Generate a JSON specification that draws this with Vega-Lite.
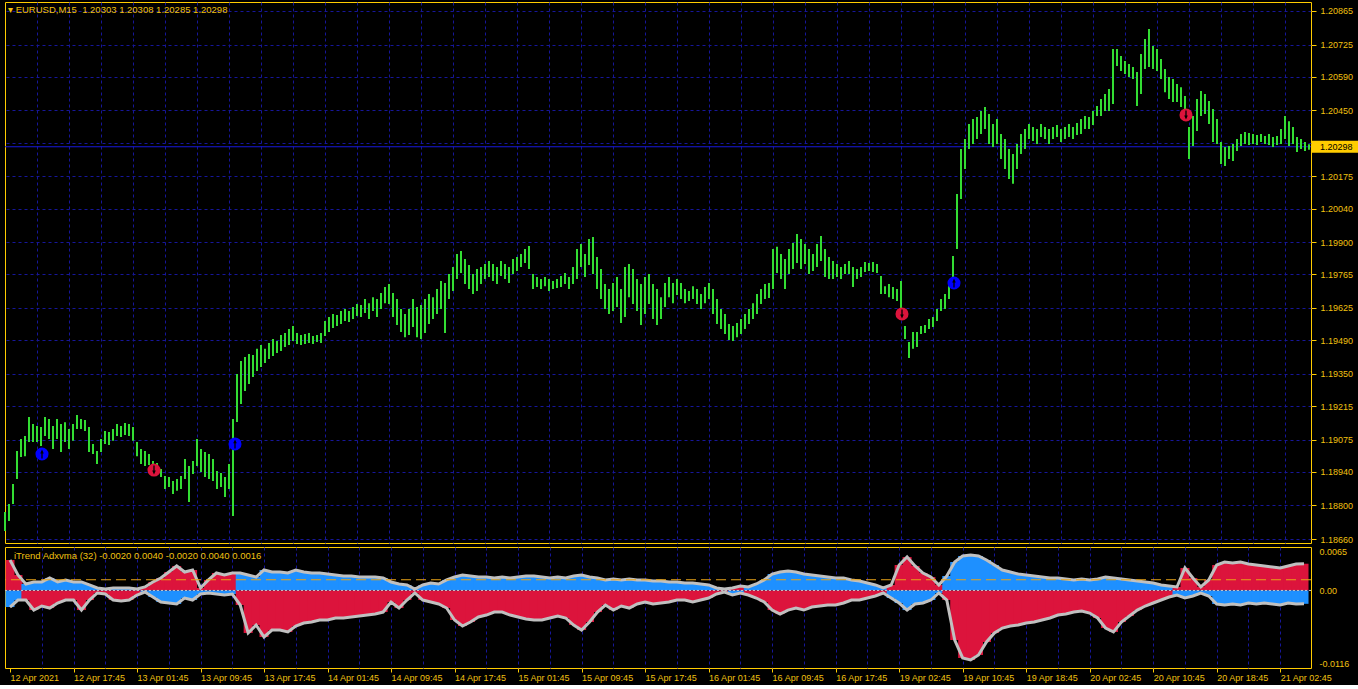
{
"$schema":"https://vega.github.io/schema/vega-lite/v6.json",
"background":"#000000",
"padding":{"left":3,"top":1,"right":8,"bottom":2},
"spacing":1,
"config":{"view":{"stroke":"#ffcc00","strokeWidth":1},"axis":{"labelFont":"Liberation Sans","labelFontSize":9,"labelColor":"#f0c010","tickColor":"#ffcc00","domain":false,"title":null,"gridColor":"#16169a","gridDash":[3,3],"gridWidth":1}},
"datasets":{
"bars":[
{"i":0,"h":1.18773,"l":1.18693},{"i":2,"h":1.18806,"l":1.18735},{"i":4,"h":1.18890,"l":1.18806},{"i":6,"h":1.19027,"l":1.18911},{"i":8,"h":1.19078,"l":1.19002},{"i":10,"h":1.19090,"l":1.19006},{"i":12,"h":1.19169,"l":1.19065},{"i":14,"h":1.19140,"l":1.19065},{"i":16,"h":1.19132,"l":1.19065},{"i":18,"h":1.19128,"l":1.19048},
{"i":20,"h":1.19169,"l":1.19090},{"i":22,"h":1.19161,"l":1.19078},{"i":24,"h":1.19132,"l":1.19036},{"i":26,"h":1.19161,"l":1.19078},{"i":28,"h":1.19140,"l":1.19023},{"i":30,"h":1.19148,"l":1.19065},{"i":32,"h":1.19119,"l":1.19036},{"i":34,"h":1.19140,"l":1.19070},{"i":36,"h":1.19178,"l":1.19119},{"i":38,"h":1.19161,"l":1.19119},
{"i":40,"h":1.19157,"l":1.19111},{"i":42,"h":1.19128,"l":1.19023},{"i":44,"h":1.19057,"l":1.19015},{"i":46,"h":1.19027,"l":1.18973},{"i":48,"h":1.19078,"l":1.19023},{"i":50,"h":1.19111,"l":1.19057},{"i":52,"h":1.19107,"l":1.19053},{"i":54,"h":1.19119,"l":1.19070},{"i":56,"h":1.19140,"l":1.19090},{"i":58,"h":1.19132,"l":1.19086},
{"i":60,"h":1.19144,"l":1.19094},{"i":62,"h":1.19140,"l":1.19090},{"i":64,"h":1.19128,"l":1.19070},{"i":66,"h":1.19065,"l":1.19006},{"i":68,"h":1.19036,"l":1.18973},{"i":70,"h":1.19027,"l":1.18965},{"i":72,"h":1.19015,"l":1.18969},{"i":74,"h":1.18986,"l":1.18940},{"i":76,"h":1.18977,"l":1.18935},{"i":78,"h":1.18952,"l":1.18919},
{"i":80,"h":1.18923,"l":1.18869},{"i":82,"h":1.18919,"l":1.18877},{"i":84,"h":1.18902,"l":1.18848},{"i":86,"h":1.18911,"l":1.18861},{"i":88,"h":1.18923,"l":1.18869},{"i":90,"h":1.18994,"l":1.18911},{"i":92,"h":1.18965,"l":1.18815},{"i":94,"h":1.18986,"l":1.18931},{"i":96,"h":1.19078,"l":1.18965},{"i":98,"h":1.19036,"l":1.18940},
{"i":100,"h":1.19023,"l":1.18919},{"i":102,"h":1.19015,"l":1.18911},{"i":104,"h":1.18994,"l":1.18902},{"i":106,"h":1.18944,"l":1.18869},{"i":108,"h":1.18936,"l":1.18877},{"i":110,"h":1.18919,"l":1.18835},{"i":112,"h":1.18973,"l":1.18869},{"i":114,"h":1.19161,"l":1.18756},{"i":116,"h":1.19349,"l":1.19149},{"i":118,"h":1.19403,"l":1.19224},
{"i":120,"h":1.19420,"l":1.19278},{"i":122,"h":1.19433,"l":1.19307},{"i":124,"h":1.19428,"l":1.19337},{"i":126,"h":1.19454,"l":1.19362},{"i":128,"h":1.19470,"l":1.19378},{"i":130,"h":1.19454,"l":1.19395},{"i":132,"h":1.19479,"l":1.19412},{"i":134,"h":1.19495,"l":1.19424},{"i":136,"h":1.19487,"l":1.19437},{"i":138,"h":1.19512,"l":1.19445},
{"i":140,"h":1.19520,"l":1.19462},{"i":142,"h":1.19537,"l":1.19470},{"i":144,"h":1.19550,"l":1.19487},{"i":146,"h":1.19520,"l":1.19474},{"i":148,"h":1.19512,"l":1.19470},{"i":150,"h":1.19516,"l":1.19474},{"i":152,"h":1.19520,"l":1.19478},{"i":154,"h":1.19508,"l":1.19474},{"i":156,"h":1.19512,"l":1.19483},{"i":158,"h":1.19520,"l":1.19478},
{"i":160,"h":1.19570,"l":1.19508},{"i":162,"h":1.19587,"l":1.19524},{"i":164,"h":1.19600,"l":1.19541},{"i":166,"h":1.19595,"l":1.19550},{"i":168,"h":1.19612,"l":1.19558},{"i":170,"h":1.19620,"l":1.19570},{"i":172,"h":1.19612,"l":1.19566},{"i":174,"h":1.19629,"l":1.19579},{"i":176,"h":1.19641,"l":1.19591},{"i":178,"h":1.19637,"l":1.19587},
{"i":180,"h":1.19662,"l":1.19604},{"i":182,"h":1.19645,"l":1.19579},{"i":184,"h":1.19670,"l":1.19612},{"i":186,"h":1.19662,"l":1.19587},{"i":188,"h":1.19687,"l":1.19620},{"i":190,"h":1.19712,"l":1.19645},{"i":192,"h":1.19725,"l":1.19641},{"i":194,"h":1.19687,"l":1.19587},{"i":196,"h":1.19662,"l":1.19554},{"i":198,"h":1.19620,"l":1.19524},
{"i":200,"h":1.19600,"l":1.19503},{"i":202,"h":1.19620,"l":1.19512},{"i":204,"h":1.19662,"l":1.19545},{"i":206,"h":1.19629,"l":1.19503},{"i":208,"h":1.19637,"l":1.19495},{"i":210,"h":1.19662,"l":1.19520},{"i":212,"h":1.19683,"l":1.19558},{"i":214,"h":1.19670,"l":1.19579},{"i":216,"h":1.19704,"l":1.19600},{"i":218,"h":1.19737,"l":1.19620},
{"i":220,"h":1.19729,"l":1.19520},{"i":222,"h":1.19767,"l":1.19662},{"i":224,"h":1.19796,"l":1.19696},{"i":226,"h":1.19850,"l":1.19746},{"i":228,"h":1.19863,"l":1.19771},{"i":230,"h":1.19829,"l":1.19725},{"i":232,"h":1.19804,"l":1.19704},{"i":234,"h":1.19767,"l":1.19683},{"i":236,"h":1.19788,"l":1.19696},{"i":238,"h":1.19796,"l":1.19725},
{"i":240,"h":1.19808,"l":1.19746},{"i":242,"h":1.19821,"l":1.19754},{"i":244,"h":1.19808,"l":1.19737},{"i":246,"h":1.19796,"l":1.19725},{"i":248,"h":1.19821,"l":1.19758},{"i":250,"h":1.19808,"l":1.19746},{"i":252,"h":1.19796,"l":1.19729},{"i":254,"h":1.19829,"l":1.19767},{"i":256,"h":1.19838,"l":1.19779},{"i":258,"h":1.19850,"l":1.19796},
{"i":260,"h":1.19871,"l":1.19813},{"i":262,"h":1.19884,"l":1.19788},{"i":264,"h":1.19767,"l":1.19704},{"i":266,"h":1.19754,"l":1.19712},{"i":268,"h":1.19746,"l":1.19704},{"i":270,"h":1.19754,"l":1.19716},{"i":272,"h":1.19746,"l":1.19696},{"i":274,"h":1.19737,"l":1.19704},{"i":276,"h":1.19746,"l":1.19708},{"i":278,"h":1.19758,"l":1.19712},
{"i":280,"h":1.19771,"l":1.19725},{"i":282,"h":1.19754,"l":1.19704},{"i":284,"h":1.19796,"l":1.19725},{"i":286,"h":1.19871,"l":1.19746},{"i":288,"h":1.19892,"l":1.19796},{"i":290,"h":1.19850,"l":1.19754},{"i":292,"h":1.19913,"l":1.19804},{"i":294,"h":1.19921,"l":1.19767},{"i":296,"h":1.19838,"l":1.19704},{"i":298,"h":1.19788,"l":1.19662},
{"i":300,"h":1.19725,"l":1.19620},{"i":302,"h":1.19704,"l":1.19600},{"i":304,"h":1.19729,"l":1.19612},{"i":306,"h":1.19754,"l":1.19629},{"i":308,"h":1.19704,"l":1.19562},{"i":310,"h":1.19796,"l":1.19587},{"i":312,"h":1.19808,"l":1.19670},{"i":314,"h":1.19788,"l":1.19641},{"i":316,"h":1.19746,"l":1.19612},{"i":318,"h":1.19725,"l":1.19554},
{"i":320,"h":1.19754,"l":1.19600},{"i":322,"h":1.19767,"l":1.19641},{"i":324,"h":1.19725,"l":1.19579},{"i":326,"h":1.19704,"l":1.19554},{"i":328,"h":1.19670,"l":1.19579},{"i":330,"h":1.19729,"l":1.19629},{"i":332,"h":1.19754,"l":1.19670},{"i":334,"h":1.19729,"l":1.19645},{"i":336,"h":1.19746,"l":1.19679},{"i":338,"h":1.19729,"l":1.19662},
{"i":340,"h":1.19704,"l":1.19645},{"i":342,"h":1.19696,"l":1.19654},{"i":344,"h":1.19716,"l":1.19662},{"i":346,"h":1.19704,"l":1.19641},{"i":348,"h":1.19683,"l":1.19620},{"i":350,"h":1.19712,"l":1.19645},{"i":352,"h":1.19729,"l":1.19662},{"i":354,"h":1.19704,"l":1.19600},{"i":356,"h":1.19662,"l":1.19558},{"i":358,"h":1.19620,"l":1.19537},
{"i":360,"h":1.19600,"l":1.19516},{"i":362,"h":1.19558,"l":1.19491},{"i":364,"h":1.19550,"l":1.19487},{"i":366,"h":1.19562,"l":1.19503},{"i":368,"h":1.19579,"l":1.19516},{"i":370,"h":1.19600,"l":1.19537},{"i":372,"h":1.19620,"l":1.19558},{"i":374,"h":1.19645,"l":1.19579},{"i":376,"h":1.19683,"l":1.19600},{"i":378,"h":1.19704,"l":1.19641},
{"i":380,"h":1.19725,"l":1.19662},{"i":382,"h":1.19729,"l":1.19666},{"i":384,"h":1.19871,"l":1.19704},{"i":386,"h":1.19880,"l":1.19771},{"i":388,"h":1.19850,"l":1.19746},{"i":390,"h":1.19829,"l":1.19704},{"i":392,"h":1.19871,"l":1.19767},{"i":394,"h":1.19896,"l":1.19788},{"i":396,"h":1.19934,"l":1.19813},{"i":398,"h":1.19913,"l":1.19788},
{"i":400,"h":1.19892,"l":1.19808},{"i":402,"h":1.19871,"l":1.19767},{"i":404,"h":1.19850,"l":1.19779},{"i":406,"h":1.19892,"l":1.19796},{"i":408,"h":1.19925,"l":1.19821},{"i":410,"h":1.19871,"l":1.19754},{"i":412,"h":1.19838,"l":1.19746},{"i":414,"h":1.19821,"l":1.19746},{"i":416,"h":1.19808,"l":1.19754},{"i":418,"h":1.19796,"l":1.19746},
{"i":420,"h":1.19808,"l":1.19767},{"i":422,"h":1.19821,"l":1.19767},{"i":424,"h":1.19796,"l":1.19712},{"i":426,"h":1.19788,"l":1.19746},{"i":428,"h":1.19796,"l":1.19754},{"i":430,"h":1.19817,"l":1.19775},{"i":432,"h":1.19813,"l":1.19779},{"i":434,"h":1.19817,"l":1.19775},{"i":436,"h":1.19808,"l":1.19771},{"i":438,"h":1.19758,"l":1.19683},
{"i":440,"h":1.19716,"l":1.19683},{"i":442,"h":1.19725,"l":1.19670},{"i":444,"h":1.19712,"l":1.19662},{"i":446,"h":1.19704,"l":1.19654},{"i":448,"h":1.19737,"l":1.19579},{"i":450,"h":1.19550,"l":1.19495},{"i":452,"h":1.19483,"l":1.19416},{"i":454,"h":1.19524,"l":1.19454},{"i":456,"h":1.19524,"l":1.19462},{"i":458,"h":1.19550,"l":1.19516},
{"i":460,"h":1.19554,"l":1.19520},{"i":462,"h":1.19579,"l":1.19537},{"i":464,"h":1.19587,"l":1.19545},{"i":466,"h":1.19620,"l":1.19570},{"i":468,"h":1.19662,"l":1.19612},{"i":470,"h":1.19683,"l":1.19620},{"i":472,"h":1.19725,"l":1.19662},{"i":474,"h":1.19842,"l":1.19746},{"i":476,"h":1.20101,"l":1.19871},{"i":478,"h":1.20289,"l":1.20080},
{"i":480,"h":1.20330,"l":1.20205},{"i":482,"h":1.20393,"l":1.20289},{"i":484,"h":1.20414,"l":1.20310},{"i":486,"h":1.20422,"l":1.20330},{"i":488,"h":1.20447,"l":1.20351},{"i":490,"h":1.20464,"l":1.20372},{"i":492,"h":1.20435,"l":1.20310},{"i":494,"h":1.20393,"l":1.20297},{"i":496,"h":1.20414,"l":1.20310},{"i":498,"h":1.20351,"l":1.20247},
{"i":500,"h":1.20330,"l":1.20205},{"i":502,"h":1.20289,"l":1.20163},{"i":504,"h":1.20268,"l":1.20143},{"i":506,"h":1.20310,"l":1.20205},{"i":508,"h":1.20351,"l":1.20268},{"i":510,"h":1.20372,"l":1.20289},{"i":512,"h":1.20393,"l":1.20330},{"i":514,"h":1.20380,"l":1.20322},{"i":516,"h":1.20372,"l":1.20310},{"i":518,"h":1.20393,"l":1.20339},
{"i":520,"h":1.20380,"l":1.20330},{"i":522,"h":1.20372,"l":1.20310},{"i":524,"h":1.20380,"l":1.20330},{"i":526,"h":1.20389,"l":1.20339},{"i":528,"h":1.20372,"l":1.20318},{"i":530,"h":1.20380,"l":1.20330},{"i":532,"h":1.20393,"l":1.20339},{"i":534,"h":1.20380,"l":1.20330},{"i":536,"h":1.20397,"l":1.20347},{"i":538,"h":1.20414,"l":1.20351},
{"i":540,"h":1.20426,"l":1.20372},{"i":542,"h":1.20422,"l":1.20372},{"i":544,"h":1.20447,"l":1.20389},{"i":546,"h":1.20468,"l":1.20426},{"i":548,"h":1.20497,"l":1.20426},{"i":550,"h":1.20518,"l":1.20447},{"i":552,"h":1.20539,"l":1.20447},{"i":554,"h":1.20706,"l":1.20477},{"i":556,"h":1.20706,"l":1.20635},{"i":558,"h":1.20677,"l":1.20614},
{"i":560,"h":1.20656,"l":1.20602},{"i":562,"h":1.20644,"l":1.20589},{"i":564,"h":1.20631,"l":1.20581},{"i":566,"h":1.20610,"l":1.20468},{"i":568,"h":1.20685,"l":1.20518},{"i":570,"h":1.20748,"l":1.20623},{"i":572,"h":1.20790,"l":1.20631},{"i":574,"h":1.20719,"l":1.20623},{"i":576,"h":1.20706,"l":1.20614},{"i":578,"h":1.20664,"l":1.20581},
{"i":580,"h":1.20623,"l":1.20526},{"i":582,"h":1.20589,"l":1.20497},{"i":584,"h":1.20581,"l":1.20485},{"i":586,"h":1.20560,"l":1.20485},{"i":588,"h":1.20547,"l":1.20464},{"i":590,"h":1.20510,"l":1.20414},{"i":592,"h":1.20380,"l":1.20247},{"i":594,"h":1.20426,"l":1.20301},{"i":596,"h":1.20497,"l":1.20364},{"i":598,"h":1.20531,"l":1.20426},
{"i":600,"h":1.20518,"l":1.20435},{"i":602,"h":1.20489,"l":1.20393},{"i":604,"h":1.20456,"l":1.20318},{"i":606,"h":1.20414,"l":1.20310},{"i":608,"h":1.20318,"l":1.20226},{"i":610,"h":1.20297,"l":1.20218},{"i":612,"h":1.20301,"l":1.20247},{"i":614,"h":1.20310,"l":1.20239},{"i":616,"h":1.20330,"l":1.20280},{"i":618,"h":1.20351,"l":1.20301},
{"i":620,"h":1.20360,"l":1.20310},{"i":622,"h":1.20355,"l":1.20305},{"i":624,"h":1.20351,"l":1.20310},{"i":626,"h":1.20347,"l":1.20305},{"i":628,"h":1.20351,"l":1.20318},{"i":630,"h":1.20343,"l":1.20310},{"i":632,"h":1.20351,"l":1.20305},{"i":634,"h":1.20339,"l":1.20297},{"i":636,"h":1.20343,"l":1.20305},{"i":638,"h":1.20372,"l":1.20310},
{"i":640,"h":1.20426,"l":1.20330},{"i":642,"h":1.20405,"l":1.20301},{"i":644,"h":1.20380,"l":1.20310},{"i":646,"h":1.20339,"l":1.20276},{"i":648,"h":1.20330,"l":1.20289},{"i":650,"h":1.20318,"l":1.20280},{"i":652,"h":1.20308,"l":1.20285}
],
"ind":[
{"i":0,"t":0.00456,"b":-0.00248,"m":"r"},{"i":4,"t":0.00231,"b":-0.00143,"m":"r"},{"i":8,"t":0.00097,"b":-0.00143,"m":"b"},{"i":12,"t":0.00127,"b":-0.00293,"m":"b"},{"i":16,"t":0.00127,"b":-0.00233,"m":"b"},{"i":20,"t":0.00186,"b":-0.00263,"m":"b"},{"i":24,"t":0.00127,"b":-0.00188,"m":"b"},{"i":28,"t":0.00157,"b":-0.00143,"m":"b"},{"i":32,"t":0.00127,"b":-0.00143,"m":"b"},{"i":36,"t":0.00127,"b":-0.00293,"m":"b"},
{"i":40,"t":0.00082,"b":-0.00143,"m":"b"},{"i":44,"t":0.00037,"b":-0.00038,"m":"b"},{"i":48,"t":0.00022,"b":-0.00053,"m":"b"},{"i":52,"t":0.00037,"b":-0.00143,"m":"b"},{"i":56,"t":0.00037,"b":-0.00158,"m":"b"},{"i":60,"t":0.00037,"b":-0.00143,"m":"b"},{"i":64,"t":0.00022,"b":-0.00068,"m":"b"},{"i":68,"t":0.00052,"b":-0.00023,"m":"r"},{"i":72,"t":0.00127,"b":-0.00098,"m":"r"},{"i":76,"t":0.00186,"b":-0.00173,"m":"r"},
{"i":80,"t":0.00276,"b":-0.00188,"m":"r"},{"i":84,"t":0.00366,"b":-0.00203,"m":"r"},{"i":88,"t":0.00276,"b":-0.00113,"m":"r"},{"i":92,"t":0.00306,"b":-0.00143,"m":"r"},{"i":96,"t":0.00037,"b":-0.00053,"m":"r"},{"i":100,"t":0.00157,"b":-0.00038,"m":"r"},{"i":104,"t":0.00261,"b":-0.00053,"m":"r"},{"i":108,"t":0.00231,"b":-0.00068,"m":"r"},{"i":112,"t":0.00261,"b":-0.00053,"m":"r"},{"i":116,"t":0.00261,"b":-0.00218,"m":"b"},
{"i":120,"t":0.00231,"b":-0.00636,"m":"b"},{"i":124,"t":0.00201,"b":-0.00517,"m":"b"},{"i":128,"t":0.00306,"b":-0.00696,"m":"b"},{"i":132,"t":0.00276,"b":-0.00592,"m":"b"},{"i":136,"t":0.00276,"b":-0.00592,"m":"b"},{"i":140,"t":0.00261,"b":-0.00621,"m":"b"},{"i":144,"t":0.00306,"b":-0.00532,"m":"b"},{"i":148,"t":0.00276,"b":-0.00487,"m":"b"},{"i":152,"t":0.00261,"b":-0.00472,"m":"b"},{"i":156,"t":0.00261,"b":-0.00442,"m":"b"},
{"i":160,"t":0.00246,"b":-0.00442,"m":"b"},{"i":164,"t":0.00231,"b":-0.00412,"m":"b"},{"i":168,"t":0.00216,"b":-0.00412,"m":"b"},{"i":172,"t":0.00216,"b":-0.00397,"m":"b"},{"i":176,"t":0.00201,"b":-0.00382,"m":"b"},{"i":180,"t":0.00201,"b":-0.00368,"m":"b"},{"i":184,"t":0.00201,"b":-0.00353,"m":"b"},{"i":188,"t":0.00186,"b":-0.00323,"m":"b"},{"i":192,"t":0.00127,"b":-0.00173,"m":"b"},{"i":196,"t":0.00097,"b":-0.00263,"m":"b"},
{"i":200,"t":0.00082,"b":-0.00143,"m":"b"},{"i":204,"t":0.00022,"b":-0.00038,"m":"b"},{"i":208,"t":0.00082,"b":-0.00143,"m":"b"},{"i":212,"t":0.00112,"b":-0.00173,"m":"b"},{"i":216,"t":0.00097,"b":-0.00203,"m":"b"},{"i":220,"t":0.00157,"b":-0.00263,"m":"b"},{"i":224,"t":0.00201,"b":-0.00442,"m":"b"},{"i":228,"t":0.00231,"b":-0.00532,"m":"b"},{"i":232,"t":0.00216,"b":-0.00472,"m":"b"},{"i":236,"t":0.00201,"b":-0.00397,"m":"b"},
{"i":240,"t":0.00201,"b":-0.00368,"m":"b"},{"i":244,"t":0.00186,"b":-0.00323,"m":"b"},{"i":248,"t":0.00201,"b":-0.00323,"m":"b"},{"i":252,"t":0.00186,"b":-0.00368,"m":"b"},{"i":256,"t":0.00201,"b":-0.00397,"m":"b"},{"i":260,"t":0.00216,"b":-0.00427,"m":"b"},{"i":264,"t":0.00216,"b":-0.00442,"m":"b"},{"i":268,"t":0.00201,"b":-0.00442,"m":"b"},{"i":272,"t":0.00186,"b":-0.00412,"m":"b"},{"i":276,"t":0.00201,"b":-0.00382,"m":"b"},
{"i":280,"t":0.00186,"b":-0.00412,"m":"b"},{"i":284,"t":0.00216,"b":-0.00517,"m":"b"},{"i":288,"t":0.00231,"b":-0.00592,"m":"b"},{"i":292,"t":0.00201,"b":-0.00472,"m":"b"},{"i":296,"t":0.00186,"b":-0.00323,"m":"b"},{"i":300,"t":0.00157,"b":-0.00218,"m":"b"},{"i":304,"t":0.00172,"b":-0.00293,"m":"b"},{"i":308,"t":0.00157,"b":-0.00233,"m":"b"},{"i":312,"t":0.00172,"b":-0.00263,"m":"b"},{"i":316,"t":0.00157,"b":-0.00203,"m":"b"},
{"i":320,"t":0.00157,"b":-0.00173,"m":"b"},{"i":324,"t":0.00142,"b":-0.00203,"m":"b"},{"i":328,"t":0.00142,"b":-0.00188,"m":"b"},{"i":332,"t":0.00127,"b":-0.00173,"m":"b"},{"i":336,"t":0.00127,"b":-0.00143,"m":"b"},{"i":340,"t":0.00112,"b":-0.00143,"m":"b"},{"i":344,"t":0.00112,"b":-0.00173,"m":"b"},{"i":348,"t":0.00097,"b":-0.00143,"m":"b"},{"i":352,"t":0.00082,"b":-0.00113,"m":"b"},{"i":356,"t":0.00037,"b":-0.00053,"m":"b"},
{"i":360,"t":0.00022,"b":-0.00023,"m":"b"},{"i":364,"t":0.00037,"b":-0.00068,"m":"r"},{"i":368,"t":0.00067,"b":-0.00038,"m":"r"},{"i":372,"t":0.00052,"b":-0.00068,"m":"b"},{"i":376,"t":0.00097,"b":-0.00113,"m":"b"},{"i":380,"t":0.00157,"b":-0.00173,"m":"b"},{"i":384,"t":0.00246,"b":-0.00293,"m":"b"},{"i":388,"t":0.00276,"b":-0.00353,"m":"b"},{"i":392,"t":0.00291,"b":-0.00293,"m":"b"},{"i":396,"t":0.00276,"b":-0.00263,"m":"b"},
{"i":400,"t":0.00246,"b":-0.00293,"m":"b"},{"i":404,"t":0.00231,"b":-0.00248,"m":"b"},{"i":408,"t":0.00216,"b":-0.00233,"m":"b"},{"i":412,"t":0.00201,"b":-0.00218,"m":"b"},{"i":416,"t":0.00186,"b":-0.00218,"m":"b"},{"i":420,"t":0.00186,"b":-0.00188,"m":"b"},{"i":424,"t":0.00157,"b":-0.00143,"m":"b"},{"i":428,"t":0.00142,"b":-0.00143,"m":"b"},{"i":432,"t":0.00112,"b":-0.00113,"m":"b"},{"i":436,"t":0.00082,"b":-0.00083,"m":"b"},
{"i":440,"t":0.00037,"b":-0.00038,"m":"b"},{"i":444,"t":0.00082,"b":-0.00113,"m":"r"},{"i":448,"t":0.00381,"b":-0.00188,"m":"r"},{"i":452,"t":0.00500,"b":-0.00293,"m":"r"},{"i":456,"t":0.00366,"b":-0.00203,"m":"r"},{"i":460,"t":0.00261,"b":-0.00188,"m":"r"},{"i":464,"t":0.00201,"b":-0.00143,"m":"r"},{"i":468,"t":0.00082,"b":-0.00038,"m":"r"},{"i":472,"t":0.00216,"b":-0.00143,"m":"b"},{"i":476,"t":0.00426,"b":-0.00741,"m":"b"},
{"i":480,"t":0.00515,"b":-0.01010,"m":"b"},{"i":484,"t":0.00530,"b":-0.01040,"m":"b"},{"i":488,"t":0.00515,"b":-0.00965,"m":"b"},{"i":492,"t":0.00456,"b":-0.00771,"m":"b"},{"i":496,"t":0.00381,"b":-0.00636,"m":"b"},{"i":500,"t":0.00306,"b":-0.00562,"m":"b"},{"i":504,"t":0.00276,"b":-0.00532,"m":"b"},{"i":508,"t":0.00246,"b":-0.00517,"m":"b"},{"i":512,"t":0.00231,"b":-0.00487,"m":"b"},{"i":516,"t":0.00216,"b":-0.00472,"m":"b"},
{"i":520,"t":0.00201,"b":-0.00442,"m":"b"},{"i":524,"t":0.00186,"b":-0.00412,"m":"b"},{"i":528,"t":0.00186,"b":-0.00368,"m":"b"},{"i":532,"t":0.00172,"b":-0.00353,"m":"b"},{"i":536,"t":0.00157,"b":-0.00323,"m":"b"},{"i":540,"t":0.00172,"b":-0.00308,"m":"b"},{"i":544,"t":0.00157,"b":-0.00338,"m":"b"},{"i":548,"t":0.00172,"b":-0.00412,"m":"b"},{"i":552,"t":0.00201,"b":-0.00562,"m":"b"},{"i":556,"t":0.00186,"b":-0.00621,"m":"b"},
{"i":560,"t":0.00172,"b":-0.00472,"m":"b"},{"i":564,"t":0.00157,"b":-0.00382,"m":"b"},{"i":568,"t":0.00142,"b":-0.00293,"m":"b"},{"i":572,"t":0.00127,"b":-0.00233,"m":"b"},{"i":576,"t":0.00112,"b":-0.00188,"m":"b"},{"i":580,"t":0.00082,"b":-0.00143,"m":"b"},{"i":584,"t":0.00067,"b":-0.00098,"m":"b"},{"i":588,"t":0.00052,"b":-0.00068,"m":"r"},{"i":592,"t":0.00336,"b":-0.00113,"m":"r"},{"i":596,"t":0.00186,"b":-0.00083,"m":"r"},
{"i":600,"t":0.00052,"b":-0.00038,"m":"r"},{"i":604,"t":0.00157,"b":-0.00083,"m":"r"},{"i":608,"t":0.00381,"b":-0.00203,"m":"r"},{"i":612,"t":0.00426,"b":-0.00218,"m":"r"},{"i":616,"t":0.00411,"b":-0.00203,"m":"r"},{"i":620,"t":0.00426,"b":-0.00218,"m":"r"},{"i":624,"t":0.00396,"b":-0.00188,"m":"r"},{"i":628,"t":0.00381,"b":-0.00203,"m":"r"},{"i":632,"t":0.00366,"b":-0.00188,"m":"r"},{"i":636,"t":0.00351,"b":-0.00203,"m":"r"},
{"i":640,"t":0.00336,"b":-0.00218,"m":"r"},{"i":644,"t":0.00366,"b":-0.00188,"m":"r"},{"i":648,"t":0.00396,"b":-0.00203,"m":"r"},{"i":652,"t":0.00400,"b":-0.00200,"m":"r"}
],
"sig":[{"i":18.5,"p":1.19015,"s":"buy"},{"i":74.5,"p":1.18948,"s":"sell"},{"i":115,"p":1.19057,"s":"buy"},{"i":448.5,"p":1.19600,"s":"sell"},{"i":474.5,"p":1.19729,"s":"buy"},{"i":590.5,"p":1.20431,"s":"sell"}],
"last":[{"i":652,"p":1.20298}]
},
"vconcat":[
{
"width":1306,"height":541,
"layer":[
{"data":{"name":"last"},"mark":{"type":"rule","color":"#1818d8","strokeWidth":1},
 "encoding":{"y":{"field":"p","type":"quantitative","scale":{"domain":[1.186433,1.209025],"nice":false,"zero":false}}}},
{"data":{"name":"bars"},"mark":{"type":"rule","color":"#33dd33","strokeWidth":2},
 "encoding":{
  "x":{"field":"i","type":"quantitative","scale":{"domain":[0,653],"nice":false,"zero":false},
   "axis":{"values":[16,32,48,64,80,96,112,128,144,160,176,192,208,224,240,256,272,288,304,320,336,352,368,384,400,416,432,448,464,480,496,512,528,544,560,576,592,608,624,640],"tickCount":60,"labels":false,"ticks":false,"grid":true}},
  "y":{"field":"l","type":"quantitative","scale":{"domain":[1.186433,1.209025],"nice":false,"zero":false},
   "axis":{"orient":"right","values":[1.1866,1.188,1.1894,1.19075,1.19215,1.1935,1.1949,1.19625,1.19765,1.199,1.2004,1.20175,1.20315,1.2045,1.2059,1.20725,1.20865],"tickCount":30,"labelExpr":"datum.value == 1.20315 ? '' : format(datum.value, '.5f')","grid":true,"tickSize":5,"labelPadding":4,"labelOverlap":false}},
  "y2":{"field":"h"}}},
{"data":{"name":"sig"},"mark":{"type":"point","shape":"circle","filled":true,"size":170,"opacity":1},
 "encoding":{"x":{"field":"i","type":"quantitative","scale":{"domain":[0,653],"nice":false,"zero":false}},
  "y":{"field":"p","type":"quantitative","scale":{"domain":[1.186433,1.209025],"nice":false,"zero":false}},
  "color":{"condition":{"test":"datum.s=='buy'","value":"#0000ff"},"value":"#dc143c"}}},
{"data":{"name":"sig"},"mark":{"type":"point","shape":"arrow","filled":true,"size":80,"opacity":1,"color":"#000000"},
 "encoding":{"x":{"field":"i","type":"quantitative","scale":{"domain":[0,653],"nice":false,"zero":false}},
  "y":{"field":"p","type":"quantitative","scale":{"domain":[1.186433,1.209025],"nice":false,"zero":false}},
  "angle":{"condition":{"test":"datum.s=='buy'","value":0},"value":180}}},
{"data":{"name":"last"},"mark":{"type":"point","shape":"M0.3,-0.6H4.9V0.6H0.3Z","filled":true,"size":400,"opacity":1,"color":"#ffcc00","clip":false},
 "encoding":{"x":{"field":"i","type":"quantitative","scale":{"domain":[0,653],"nice":false,"zero":false}},
  "y":{"field":"p","type":"quantitative","scale":{"domain":[1.186433,1.209025],"nice":false,"zero":false}}}},
{"data":{"name":"last"},"mark":{"type":"text","align":"left","baseline":"middle","dx":11,"color":"#000000","font":"Liberation Sans","fontSize":9},
 "encoding":{"x":{"field":"i","type":"quantitative","scale":{"domain":[0,653],"nice":false,"zero":false}},
  "y":{"field":"p","type":"quantitative","scale":{"domain":[1.186433,1.209025],"nice":false,"zero":false}},
  "text":{"field":"p","type":"quantitative","format":".5f"}}},
{"data":{"values":[{}]},"mark":{"type":"text","align":"left","baseline":"top","dx":3,"dy":3,"color":"#f0c010","font":"Liberation Sans","fontSize":9.5,"text":"▾ EURUSD,M15\u00a0\u00a01.20303 1.20308 1.20285 1.20298"},
 "encoding":{"x":{"datum":0,"type":"quantitative","scale":{"domain":[0,653],"nice":false,"zero":false}},
  "y":{"datum":1.209025,"type":"quantitative","scale":{"domain":[1.186433,1.209025],"nice":false,"zero":false}}}}
]
},
{
"width":1306,"height":121,
"layer":[
{"data":{"name":"ind"},"mark":{"type":"bar","size":9,"clip":true},
 "encoding":{
  "x":{"field":"i","type":"quantitative","scale":{"domain":[0,653],"nice":false,"zero":false},
   "axis":{"values":[0,16,32,48,64,80,96,112,128,144,160,176,192,208,224,240,256,272,288,304,320,336,352,368,384,400,416,432,448,464,480,496,512,528,544,560,576,592,608,624,640],"tickCount":60,
    "grid":true,"gridOpacity":{"expr":"datum.value == 0 ? 0 : 1"},"tickOpacity":{"expr":"datum.value % 32 == 0 ? 1 : 0"},"tickSize":4,
    "labelExpr":"datum.value % 32 == 0 ? ['12 Apr 2021','12 Apr 17:45','13 Apr 01:45','13 Apr 09:45','13 Apr 17:45','14 Apr 01:45','14 Apr 09:45','14 Apr 17:45','15 Apr 01:45','15 Apr 09:45','15 Apr 17:45','16 Apr 01:45','16 Apr 09:45','16 Apr 17:45','19 Apr 02:45','19 Apr 10:45','19 Apr 18:45','20 Apr 02:45','20 Apr 10:45','20 Apr 18:45','21 Apr 02:45'][floor(datum.value/32)] : ''",
    "labelAlign":"left","labelPadding":1,"labelFlush":false,"labelOverlap":false,"labelBound":false}},
  "y":{"field":"t","type":"quantitative","scale":{"domain":[-0.0116,0.0065],"nice":false,"zero":false},
   "axis":{"orient":"right","values":[0.0065,0,-0.0116],"tickCount":10,"grid":false,"ticks":false,"labelPadding":8,
    "labelExpr":"datum.value > 0 ? '0.0065' : (datum.value < 0 ? '-0.0116' : '0.00')",
    "labelBaseline":{"expr":"datum.value > 0 ? 'top' : (datum.value < 0 ? 'bottom' : 'middle')"}}},
  "color":{"condition":{"test":"datum.m=='r'","value":"#dc143c"},"value":"#1e90ff"}}},
{"data":{"name":"ind"},"mark":{"type":"bar","size":9,"clip":true},
 "encoding":{
  "x":{"field":"i","type":"quantitative","scale":{"domain":[0,653],"nice":false,"zero":false}},
  "y":{"field":"b","type":"quantitative","scale":{"domain":[-0.0116,0.0065],"nice":false,"zero":false}},
  "color":{"condition":{"test":"datum.m=='r'","value":"#1e90ff"},"value":"#dc143c"}}},
{"data":{"name":"ind"},"mark":{"type":"line","color":"#c0c0c0","strokeWidth":3,"clip":true},
 "encoding":{"x":{"field":"i","type":"quantitative","scale":{"domain":[0,653],"nice":false,"zero":false}},
  "y":{"field":"t","type":"quantitative","scale":{"domain":[-0.0116,0.0065],"nice":false,"zero":false}}}},
{"data":{"name":"ind"},"mark":{"type":"line","color":"#c0c0c0","strokeWidth":3,"clip":true},
 "encoding":{"x":{"field":"i","type":"quantitative","scale":{"domain":[0,653],"nice":false,"zero":false}},
  "y":{"field":"b","type":"quantitative","scale":{"domain":[-0.0116,0.0065],"nice":false,"zero":false}}}},
{"data":{"values":[{}]},"mark":{"type":"rule","color":"#c8c8c8","strokeDash":[2,2],"strokeWidth":1},
 "encoding":{"y":{"datum":0,"type":"quantitative","scale":{"domain":[-0.0116,0.0065],"nice":false,"zero":false}}}},
{"data":{"values":[{}]},"mark":{"type":"rule","color":"#e8a317","strokeDash":[10,5],"strokeWidth":1},
 "encoding":{"y":{"datum":0.0016,"type":"quantitative","scale":{"domain":[-0.0116,0.0065],"nice":false,"zero":false}}}},
{"data":{"values":[{}]},"mark":{"type":"text","align":"left","baseline":"top","dx":4,"dy":4,"color":"#f0c010","font":"Liberation Sans","fontSize":9.5,"text":"iTrend Adxvma (32) -0.0020 0.0040 -0.0020 0.0040 0.0016"},
 "encoding":{"x":{"datum":0,"type":"quantitative","scale":{"domain":[0,653],"nice":false,"zero":false}},
  "y":{"datum":0.0065,"type":"quantitative","scale":{"domain":[-0.0116,0.0065],"nice":false,"zero":false}}}}
]
}
]
}
